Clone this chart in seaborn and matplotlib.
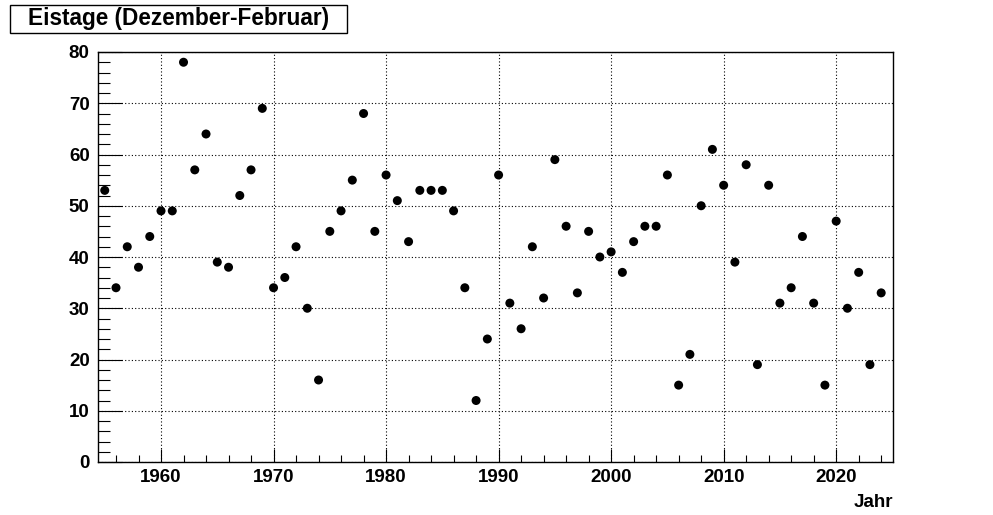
import numpy as np
import pandas as pd
import matplotlib.pyplot as plt
import seaborn as sns
from matplotlib.ticker import MultipleLocator
from matplotlib.patches import Rectangle

# Eistage (ice days) per winter, December-February
years = list(range(1955, 2025))
ice_days = [53, 34, 42, 38, 44, 49, 49, 78, 57, 64,
            39, 38, 52, 57, 69, 34, 36, 42, 30, 16,
            45, 49, 55, 68, 45, 56, 51, 43, 53, 53,
            53, 49, 34, 12, 24, 56, 31, 26, 42, 32,
            59, 46, 33, 45, 40, 41, 37, 43, 46, 46,
            56, 15, 21, 50, 61, 54, 39, 58, 19, 54,
            31, 34, 44, 31, 15, 47, 30, 37, 19, 33]

title = "Eistage (Dezember-Februar)"
x_label = "Jahr"

df = pd.DataFrame({"year": years, "days": ice_days})

sns.set_style("white")
plt.rcParams['font.family'] = ['Liberation Sans', 'DejaVu Sans']
plt.rcParams['font.weight'] = 'bold'
plt.rcParams['text.color'] = 'black'

fig = plt.figure(figsize=(9.93, 5.15), dpi=100)
ax = fig.add_axes([98 / 993, 1 - 462 / 515, (893 - 98) / 993, (462 - 52) / 515])

sns.scatterplot(data=df, x="year", y="days", ax=ax, color="black",
                s=42, edgecolor="none", marker="o", zorder=3)

ax.set_xlim(1954.4, 2025.05)
ax.set_ylim(0, 80)

# ROOT-like axes: inward ticks, dotted grid at major ticks
ax.xaxis.set_major_locator(MultipleLocator(10))
ax.xaxis.set_minor_locator(MultipleLocator(2))
ax.yaxis.set_major_locator(MultipleLocator(10))
ax.yaxis.set_minor_locator(MultipleLocator(2))
ax.tick_params(which="both", left=True, bottom=True, top=False, right=False)
ax.tick_params(axis="y", which="major", direction="in", length=17, width=0.8,
               labelsize=13.5, pad=6, colors="black")
ax.tick_params(axis="y", which="minor", direction="in", length=8.5, width=0.8,
               colors="black")
ax.tick_params(axis="x", which="major", direction="in", length=9.5, width=0.8,
               labelsize=13.5, pad=5, colors="black")
ax.tick_params(axis="x", which="minor", direction="in", length=5, width=0.8,
               colors="black")
for lab in ax.get_xticklabels() + ax.get_yticklabels():
    lab.set_fontweight("bold")

ax.grid(True, which="major", color="black", linestyle=(0, (1, 2)), linewidth=0.8)
for sp in ax.spines.values():
    sp.set_color("black")
    sp.set_linewidth(1.0)

ax.set_ylabel("")
ax.set_xlabel(x_label, loc="right", fontsize=13.5, fontweight="bold",
              labelpad=6, color="black")

# title box
fig.patches.append(Rectangle((10 / 993, 1 - 33 / 515), 337 / 993, 28 / 515,
                             transform=fig.transFigure, facecolor="white",
                             edgecolor="black", linewidth=1))
fig.text(179 / 993, 1 - 19 / 515, title, ha="center", va="center",
         fontsize=16.3, fontweight="bold", color="black")

fig.savefig("out.png", dpi=100)
